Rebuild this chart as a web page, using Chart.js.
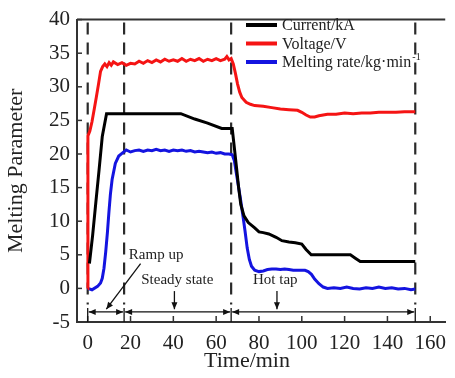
<!DOCTYPE html>
<html>
<head>
<meta charset="utf-8">
<title>Melting parameters</title>
<script src="https://cdn.jsdelivr.net/npm/chart.js@4.4.1/dist/chart.umd.min.js"></script>
<style>
  html, body { margin: 0; padding: 0; background: #fff; }
  canvas { display: block; }
</style>
</head>
<body>
<canvas id="meltChart" width="455" height="378"></canvas>
<script>
/* ==========================================
   Melting parameters vs time
========================================== */

const X_TICKS = [0, 20, 40, 60, 80, 100, 120, 140, 160];
const Y_TICKS = [-5, 0, 5, 10, 15, 20, 25, 30, 35, 40];
const PHASE_BOUNDS = [0, 17, 67, 153];
const PHASE_LABELS = ["Ramp up", "Steady state", "Hot tap"];

// Voltage/V
const VOLT_T = [0, 0.1, 1, 2, 3, 4, 5, 6, 7, 8, 9, 10, 11, 12, 14, 16, 18, 20, 22, 24, 26, 28, 30, 32, 34, 36, 38, 40, 42, 44, 46, 48, 50, 52, 54, 56, 58, 60, 62, 64, 65, 66, 67, 68, 69, 70, 71, 72, 74, 76, 78, 82, 86, 90, 94, 98, 100, 102, 104, 106, 108, 112, 116, 120, 124, 128, 132, 136, 140, 144, 148, 153];
const VOLT_V = [0, 22.7, 23.4, 24.8, 26.6, 28.4, 30.3, 32.3, 33.0, 33.4, 33.0, 33.6, 33.2, 33.7, 33.3, 33.6, 33.2, 33.5, 33.4, 33.8, 33.5, 33.9, 33.6, 34.0, 33.7, 34.1, 33.8, 34.0, 33.8, 34.2, 33.8, 34.1, 33.9, 34.2, 33.8, 34.1, 33.9, 34.2, 33.9, 34.1, 34.5, 34.0, 34.2, 33.4, 32.0, 30.4, 29.2, 28.4, 27.7, 27.4, 27.2, 27.1, 26.9, 26.7, 26.6, 26.5, 26.2, 25.8, 25.5, 25.5, 25.7, 25.9, 25.9, 26.1, 26.0, 26.1, 26.1, 26.2, 26.2, 26.2, 26.3, 26.3];

// Current/kA
const CURR_T = [0.8, 2.3, 3.8, 5.3, 6.8, 8.8, 20, 30, 43.5, 50, 56, 62.6, 67.5, 68.3, 69.5, 70.5, 71.5, 73, 75, 78, 80, 82, 84.6, 88, 90.7, 94, 97, 100, 102, 104.4, 110, 116, 122.7, 125, 127.3, 135, 145, 153];
const CURR_V = [3.7, 7.9, 12.8, 17.6, 22.6, 26, 26, 26, 26, 25.2, 24.6, 23.8, 23.8, 21.5, 18, 15, 12.5, 10.8, 9.8, 9.0, 8.4, 8.3, 8.1, 7.6, 7.1, 6.9, 6.8, 6.6, 5.8, 5.0, 5.0, 5.0, 5.0, 4.5, 4.0, 4.0, 4.0, 4.0];

// Melting rate/kg·min-1
const MELT_T = [0, 2, 4.6, 6, 6.8, 7.6, 8.4, 9.2, 9.9, 10.6, 11.4, 12.9, 14.5, 16, 18, 20, 22, 24, 26, 28, 30, 32, 34, 36, 38, 40, 42, 44, 46, 48, 50, 52, 54, 56, 58, 60, 62, 64, 66, 67.5, 68.5, 69.5, 70.5, 71.5, 72.5, 73.5, 74.5, 75.5, 76.5, 78, 80, 82, 84, 86, 88, 90, 92, 94, 96, 98, 100, 101.5, 103, 104.5, 106, 108, 110, 112, 115, 118, 121, 124, 127, 130, 133, 136, 139, 142, 145, 148, 151, 153];
const MELT_V = [0, -0.2, 0.3, 0.8, 1.5, 3.0, 5.4, 8.3, 11.3, 14, 16.2, 18.6, 19.7, 20.1, 20.6, 20.3, 20.5, 20.6, 20.4, 20.6, 20.5, 20.7, 20.5, 20.6, 20.4, 20.6, 20.5, 20.6, 20.4, 20.5, 20.3, 20.4, 20.3, 20.2, 20.3, 20.1, 20.2, 20.0, 20.0, 19.9, 19.0, 17.0, 15.0, 13.0, 10.8, 8.5, 6.0, 4.3, 3.3, 2.7, 2.5, 2.6, 2.8, 2.9, 2.9, 2.8, 2.9, 2.8, 2.7, 2.7, 2.7, 2.7, 2.5, 2.1, 1.4, 0.7, 0.2, 0.0, 0.1, 0.0, 0.2, 0.0, -0.1, 0.1, 0.0, 0.2, 0.0, 0.1, -0.1, 0.0, -0.2, -0.1];

const FONT = '"Liberation Serif", "Times New Roman", serif';
const INK = "#222";

function toPoints(times, values) {
  return times.map((t, i) => ({ x: t, y: values[i] }));
}

function arrowHead(ctx, x, y, dx, dy) {
  // small filled head pointing along (dx, dy)
  const len = 7, half = 3;
  const ang = Math.atan2(dy, dx);
  ctx.beginPath();
  ctx.moveTo(x, y);
  ctx.lineTo(x - len * Math.cos(ang) + half * Math.sin(ang), y - len * Math.sin(ang) - half * Math.cos(ang));
  ctx.lineTo(x - len * Math.cos(ang) - half * Math.sin(ang), y - len * Math.sin(ang) + half * Math.cos(ang));
  ctx.closePath();
  ctx.fill();
}

const meltDecor = {
  id: "meltDecor",
  beforeDatasetsDraw(chart) {
    const { ctx, chartArea, scales: { x, y } } = chart;
    ctx.save();
    ctx.strokeStyle = "#2a2a2a";
    ctx.lineWidth = 2.2;
    ctx.setLineDash([12, 8]);
    PHASE_BOUNDS.forEach((t) => {
      const px = x.getPixelForValue(t);
      ctx.beginPath();
      ctx.moveTo(px, chartArea.top + 3);
      ctx.lineTo(px, y.getPixelForValue(-2.4));
      ctx.stroke();
    });
    ctx.restore();
  },
  afterDraw(chart) {
    const { ctx, chartArea, scales: { x, y } } = chart;
    ctx.save();

    // frame top + inward ticks
    ctx.strokeStyle = "#333";
    ctx.lineWidth = 2;
    ctx.beginPath();
    ctx.moveTo(chartArea.left, chartArea.top);
    ctx.lineTo(chartArea.right, chartArea.top);
    ctx.stroke();
    ctx.lineWidth = 1.5;
    Y_TICKS.forEach((v) => {
      const py = y.getPixelForValue(v);
      ctx.beginPath();
      ctx.moveTo(chartArea.left, py);
      ctx.lineTo(chartArea.left + 5, py);
      ctx.stroke();
    });
    X_TICKS.forEach((v) => {
      const px = x.getPixelForValue(v);
      ctx.beginPath();
      ctx.moveTo(px, chartArea.bottom);
      ctx.lineTo(px, chartArea.bottom - 6);
      ctx.stroke();
    });

    // phase brackets
    ctx.strokeStyle = "#111";
    ctx.fillStyle = "#111";
    ctx.lineWidth = 1.3;
    const by = y.getPixelForValue(-3.5);
    PHASE_BOUNDS.forEach((t) => {
      const px = x.getPixelForValue(t);
      ctx.beginPath();
      ctx.moveTo(px, y.getPixelForValue(-2.9));
      ctx.lineTo(px, chartArea.bottom);
      ctx.stroke();
    });
    for (let i = 0; i < PHASE_BOUNDS.length - 1; i++) {
      const x0 = x.getPixelForValue(PHASE_BOUNDS[i]) + 1;
      const x1 = x.getPixelForValue(PHASE_BOUNDS[i + 1]) - 1;
      ctx.beginPath();
      ctx.moveTo(x0, by);
      ctx.lineTo(x1, by);
      ctx.stroke();
      arrowHead(ctx, x0, by, -1, 0);
      arrowHead(ctx, x1, by, 1, 0);
    }

    // pointers to the phases
    const pointers = [[40.5, -0.4, 40.5, -3.1], [88.4, -0.4, 88.4, -3.1], [24.7, 3.7, 8.7, -3.1]];
    pointers.forEach(([ta, va, tb, vb]) => {
      const ax = x.getPixelForValue(ta), ay = y.getPixelForValue(va);
      const bx = x.getPixelForValue(tb), bY = y.getPixelForValue(vb);
      ctx.beginPath();
      ctx.moveTo(ax, ay);
      ctx.lineTo(bx, bY);
      ctx.stroke();
      arrowHead(ctx, bx, bY, bx - ax, bY - ay);
    });

    ctx.fillStyle = INK;
    ctx.font = `15px ${FONT}`;
    ctx.textBaseline = "middle";
    ctx.textAlign = "left";
    ctx.fillText(PHASE_LABELS[0], x.getPixelForValue(19.2), y.getPixelForValue(5.0));
    ctx.fillText(PHASE_LABELS[1], x.getPixelForValue(25), y.getPixelForValue(1.3));
    ctx.fillText(PHASE_LABELS[2], x.getPixelForValue(77.2), y.getPixelForValue(1.3));

    // x-axis title
    ctx.font = `22px ${FONT}`;
    ctx.textAlign = "center";
    ctx.fillText("Time/min", x.getPixelForValue(74.4), 361);

    // legend
    const rows = chart.data.datasets;
    ctx.font = `16px ${FONT}`;
    ctx.textAlign = "left";
    rows.forEach((ds, i) => {
      const ly = 25 + i * 18.5;
      ctx.strokeStyle = ds.borderColor;
      ctx.lineWidth = 4;
      ctx.beginPath();
      ctx.moveTo(246, ly);
      ctx.lineTo(277, ly);
      ctx.stroke();
      ctx.fillStyle = INK;
      ctx.fillText(ds.label, 282, ly + 1);
      if (ds.labelSup) {
        const w = ctx.measureText(ds.label).width;
        ctx.font = `10px ${FONT}`;
        ctx.fillText(ds.labelSup, 282 + w + 1, ly - 5);
        ctx.font = `16px ${FONT}`;
      }
    });

    ctx.restore();
  },
};

new Chart(document.getElementById("meltChart"), {
  type: "line",
  data: {
    datasets: [
      { label: "Current/kA", data: toPoints(CURR_T, CURR_V), borderColor: "#000000" },
      { label: "Voltage/V", data: toPoints(VOLT_T, VOLT_V), borderColor: "#f51414" },
      { label: "Melting rate/kg·min", labelSup: "-1", data: toPoints(MELT_T, MELT_V), borderColor: "#1414e0" },
    ],
  },
  options: {
    responsive: false,
    animation: false,
    devicePixelRatio: 1,
    layout: { padding: { top: 15, right: 0, left: 0, bottom: 0 } },
    elements: { point: { radius: 0 }, line: { borderWidth: 3, tension: 0 } },
    plugins: { legend: { display: false }, tooltip: { enabled: false } },
    scales: {
      x: {
        type: "linear",
        min: -5,
        max: 167,
        afterBuildTicks: (scale) => { scale.ticks = X_TICKS.map((v) => ({ value: v })); },
        afterFit: (scale) => { scale.height = 56; },
        grid: { display: false, drawTicks: false },
        border: { display: true, color: "#333", width: 2 },
        ticks: { color: INK, padding: 9, maxRotation: 0, font: { family: FONT, size: 21 } },
      },
      y: {
        min: -5,
        max: 40,
        afterBuildTicks: (scale) => { scale.ticks = Y_TICKS.map((v) => ({ value: v })); },
        afterFit: (scale) => { scale.width = 77; },
        grid: { display: false, drawTicks: false },
        border: { display: true, color: "#333", width: 2 },
        ticks: { color: INK, padding: 7, font: { family: FONT, size: 21 } },
        title: { display: true, text: "Melting Parameter", color: INK, padding: { top: 3, bottom: 0 }, font: { family: FONT, size: 22 } },
      },
    },
  },
  plugins: [meltDecor],
});

/* ==========================================
   End File
========================================== */
</script>
</body>
</html>
